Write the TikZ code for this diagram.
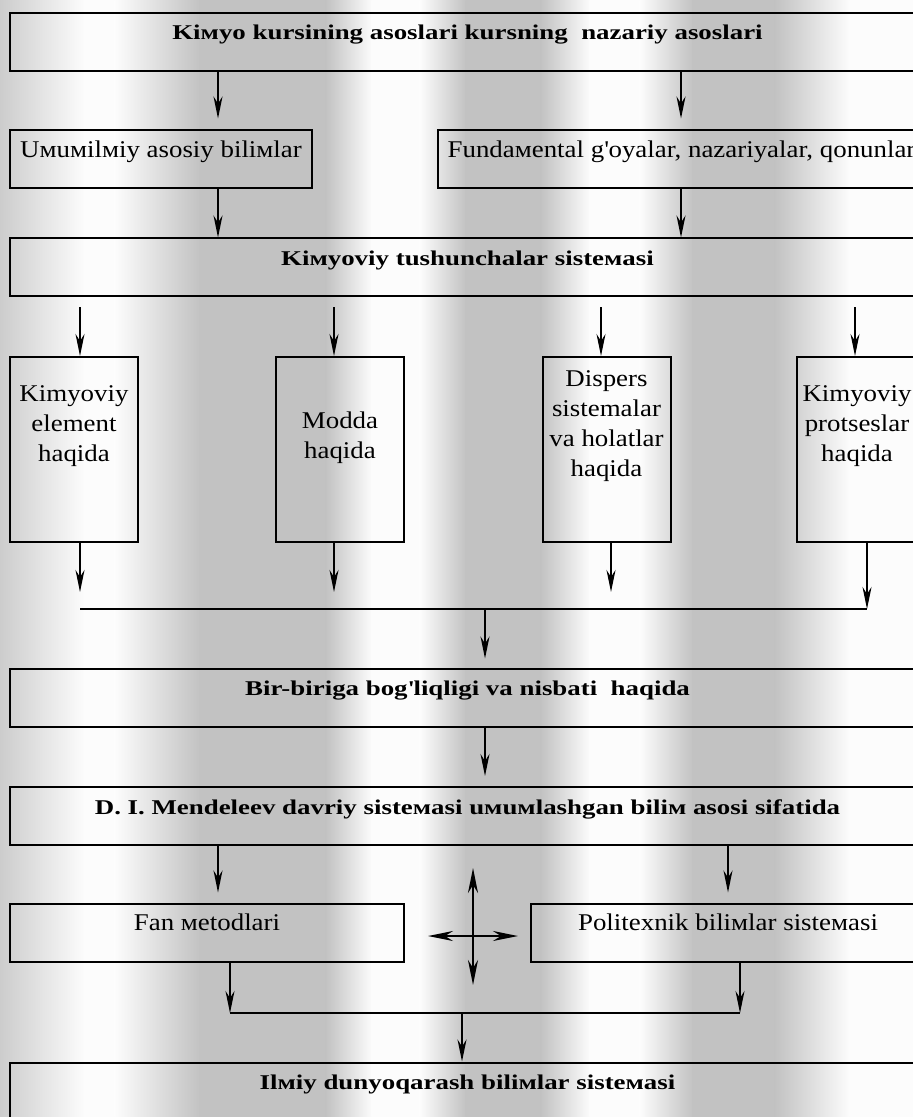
\documentclass[tikz,border=0pt]{standalone}
\usepackage{fontspec}
\setmainfont{Liberation Serif}[FakeStretch=1.12]
\newfontfamily\headfont{Liberation Serif}[FakeStretch=1.28]
\usetikzlibrary{arrows.meta,positioning,calc}
\tikzset{
    wide/.style={
        rectangle,
        draw=black,
        line width=1pt,
        minimum width=457.5pt,
        minimum height=29pt,
        inner sep=0pt,
        text height=13.5pt,
        text depth=15.5pt,
        font=\headfont\bfseries\fontsize{10.5}{13}\selectfont,
    },
    half/.style={
        rectangle,
        draw=black,
        line width=1pt,
        minimum height=29pt,
        inner sep=0pt,
        text height=13.5pt,
        text depth=15.5pt,
        font=\fontsize{12}{15}\selectfont,
    },
    tall/.style={
        rectangle,
        draw=black,
        line width=1pt,
        minimum width=64pt,
        minimum height=92.5pt,
    },
    note/.style={
        align=center,
        inner sep=0pt,
        font=\fontsize{12}{15}\selectfont,
    },
    bar/.style={
        draw,
        line width=1pt,
    },
    cross/.style={
        draw,
        <->,>={Stealth[length=12.5pt,width=5pt,inset=4pt]},
        line width=1pt,
    },
    every edge/.style={
        draw,
        ->,>={Stealth[length=11pt,width=4.5pt,inset=3.5pt]},
        line width=0.8pt,
    },
}
\begin{document}
\begin{tikzpicture}[x=0.5pt,y=-0.5pt]
\useasboundingbox (0,0) rectangle (913,1117);
\clip (0,0) rectangle (913,1117);
% metal stripes
\foreach \xa/\ga/\xb/\gb in {0/80/85/99,85/99/115/99,115/99/200/76,200/76/326/76,326/76/372/99,372/99/420/99,420/99/466/76,466/76/541/76,541/76/590/99,590/99/640/99,640/99/693/76,693/76/775/76,775/76/850/99,850/99/913/99}
    \shade[left color=white!\ga!black, right color=white!\gb!black] (\xa-0.5,0) rectangle (\xb+0.5,1117);

\node [wide] (T) at (467.5,42) {Kiмyo kursining asoslari kursning\ \ nazariy asoslari};
\node [half,minimum width=151pt] (U) at (161,159.5) {Uмuмilмiy asosiy biliмlar};
\node [half,minimum width=243.5pt] (F) at (681.5,159.5) {Fundaмental g\textquotesingle oyalar, nazariyalar, qonunlar};
\node [wide] (S) at (467.5,267.5) {Kiмyoviy tushunchalar sisteмasi};

\node [tall] (E1) at (74,449.5) {};
\node [tall] (E2) at (340,449.5) {};
\node [tall] (E3) at (606.5,449.5) {};
\node [tall] (E4) at (861,449.5) {};
\node [note] (E1t) at (74,426) {Kimyoviy\\element\\haqida};
\node [note] (E2t) at (340,438) {Modda\\haqida};
\node [note] (E3t) at (606.5,426) {Dispers\\sistemalar\\va holatlar\\haqida};
\node [note] (E4t) at (857,426) {Kimyoviy\\protseslar\\haqida};

\node [wide] (B) at (467.5,697.5) {Bir-biriga bog\textquotesingle liqligi va nisbati\ \ haqida};
\node [wide] (D) at (467.5,816) {D. I. Mendeleev davriy sisteмasi uмuмlashgan biliм asosi sifatida};
\node [half,minimum width=197pt] (M) at (207,932.5) {Fan мetodlari};
\node [half,minimum width=197pt] (P) at (728,932.5) {Politexnik biliмlar sisteмasi};
\node [wide] (I) at (467.5,1091.5) {Ilмiy dunyoqarash biliмlar sisteмasi};

% columns
\coordinate (c1) at (218,0);
\coordinate (c2) at (681,0);
\coordinate (d1) at (80,0);
\coordinate (d2) at (334,0);
\coordinate (d3) at (601,0);
\coordinate (d4) at (855,0);
\coordinate (o3) at (611,0);
\coordinate (o4) at (867,0);
\coordinate (e2) at (728,0);
\coordinate (f1) at (230,0);
\coordinate (f2) at (740,0);
\coordinate (m1) at (485,609);
\coordinate (m2) at (462,1013);

\draw (T.south -| c1) edge[shorten >=5.5pt] (U.north -| c1);
\draw (T.south -| c2) edge[shorten >=5.5pt] (F.north -| c2);
\draw (U.south -| c1) edge (S.north -| c1);
\draw (F.south -| c2) edge (S.north -| c2);

\draw (S.south -| d1) edge[shorten <=5pt] (E1.north -| d1);
\draw (S.south -| d2) edge[shorten <=5pt] (E2.north -| d2);
\draw (S.south -| d3) edge[shorten <=5pt] (E3.north -| d3);
\draw (S.south -| d4) edge[shorten <=5pt] (E4.north -| d4);

\draw (E1.south -| d1) edge[shorten >=8.5pt] (m1 -| d1);
\draw (E2.south -| d2) edge[shorten >=8.5pt] (m1 -| d2);
\draw (E3.south -| o3) edge[shorten >=8.5pt] (m1 -| o3);
\draw (E4.south -| o4) edge (m1 -| o4);
\draw[bar] (m1 -| d1) -- (m1 -| o4);
\draw (m1) edge[shorten >=4.5pt] (B.north -| m1);
\draw (B.south -| m1) edge[shorten >=5pt] (D.north -| m1);

\draw (D.south -| c1) edge[shorten >=5pt] (M.north -| c1);
\draw (D.south -| e2) edge[shorten >=5pt] (P.north -| e2);
\draw (M.south -| f1) edge (m2 -| f1);
\draw (P.south -| f2) edge (m2 -| f2);
\draw[bar] (m2 -| f1) -- (m2 -| f2);
\draw (m2) edge (I.north -| m2);

% cross between the two lower boxes
\coordinate (v1) at (473,868);
\coordinate (v2) at (473,985);
\coordinate (h1) at (428,936);
\coordinate (h2) at (518,936);
\draw[cross] (v1) -- (v2);
\draw[cross] (h1) -- (h2);
\end{tikzpicture}
\end{document}
